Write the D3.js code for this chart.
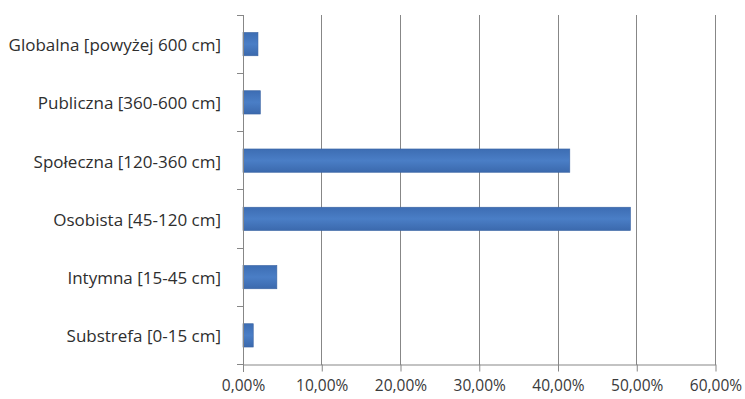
<!DOCTYPE html>
<html><head><meta charset="utf-8">
<script src="https://cdn.jsdelivr.net/npm/d3@7"></script>
<style>body{margin:0;background:#fff}svg{display:block}text{font-family:"Open Sans",sans-serif}</style>
</head><body>
<svg id="c" width="745" height="399"></svg>
<script>
const categories = ["Globalna [powyżej 600 cm]","Publiczna [360-600 cm]","Społeczna [120-360 cm]","Osobista [45-120 cm]","Intymna [15-45 cm]","Substrefa [0-15 cm]"];
const values = [0.019, 0.022, 0.415, 0.492, 0.043, 0.013];
const xTicks = [0,0.1,0.2,0.3,0.4,0.5,0.6];
const xTickLabels = ["0,00%","10,00%","20,00%","30,00%","40,00%","50,00%","60,00%"];

(function(){
const svg = d3.select("#c");
const pL = 243, pR = 715.5, pT = 15, pB = 364.5;
const x = d3.scaleLinear().domain([0,0.6]).range([pL,pR]);
const y = d3.scaleBand().domain(categories).range([pT,pB]).paddingInner(0.6).paddingOuter(0.3);

svg.append("g").selectAll("line").data(xTicks.slice(1)).join("line")
  .attr("x1",d=>x(d)).attr("x2",d=>x(d)).attr("y1",pT).attr("y2",pB)
  .attr("stroke","#878787").attr("stroke-width",1).attr("shape-rendering","crispEdges");

const defs = svg.append("defs");
const g = defs.append("linearGradient").attr("id","bg").attr("x1",0).attr("x2",0).attr("y1",0).attr("y2",1);
g.append("stop").attr("offset","0%").attr("stop-color","#3d6db3");
g.append("stop").attr("offset","50%").attr("stop-color","#4a7ec6");
g.append("stop").attr("offset","100%").attr("stop-color","#3b69ad");

svg.append("g").selectAll("rect").data(values).join("rect")
  .attr("x",x(0)).attr("y",(d,i)=>y(categories[i]))
  .attr("width",d=>x(d)-x(0)).attr("height",y.bandwidth())
  .attr("fill","url(#bg)").attr("stroke","#3a64a3").attr("stroke-width",0.6);

const xAxis = d3.axisBottom(x).tickValues(xTicks).tickFormat((d,i)=>xTickLabels[i]).tickSize(7).tickSizeOuter(0).tickPadding(8);
const xa = svg.append("g").attr("transform",`translate(0,${pB})`).call(xAxis);
xa.select(".domain").attr("stroke","#878787");
xa.selectAll(".tick line").attr("stroke","#878787");
xa.selectAll("text").attr("font-size",15.5).attr("fill","#3a3a3a").attr("font-family","'Open Sans',sans-serif");

const ya = svg.append("g").attr("transform",`translate(${pL},0)`);
ya.append("line").attr("x1",0).attr("x2",0).attr("y1",pT).attr("y2",pB+7).attr("stroke","#878787").attr("shape-rendering","crispEdges");
const step = (pB-pT)/categories.length;
ya.selectAll("line.t").data(d3.range(categories.length+1)).join("line").attr("class","t")
  .attr("x1",-6).attr("x2",0).attr("y1",i=>pT+i*step).attr("y2",i=>pT+i*step)
  .attr("stroke","#878787").attr("shape-rendering","crispEdges");
ya.selectAll("text").data(categories).join("text")
  .attr("x",-22).attr("y",d=>y(d)+y.bandwidth()/2+1).attr("dy","0.35em")
  .attr("text-anchor","end").attr("font-size",17).attr("fill","#2e2e2e")
  .text(d=>d);
})();
</script>
</body></html>
